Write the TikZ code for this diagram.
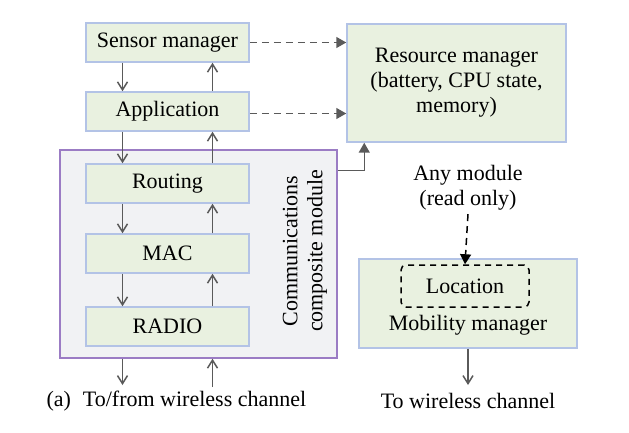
\documentclass[tikz,border=0pt]{standalone}
\usepackage{fontspec}
\setmainfont{Liberation Serif}
\usepackage{tikz}
\usepackage{xcolor}
\usetikzlibrary{arrows.meta}
\definecolor{boxfill}{HTML}{E9F1E0}
\definecolor{boxline}{HTML}{B3C3E6}
\definecolor{compfill}{HTML}{F1F2F4}
\definecolor{compline}{HTML}{9B7CC4}
\definecolor{arrowgray}{HTML}{5A5A5A}
\tikzset{
    layer-box/.style = {draw=boxline, fill=boxfill, line width=1.5pt, rectangle, minimum width=163pt, minimum height=39pt},
    comp-box/.style = {draw=compline, fill=compfill, line width=1.5pt, rectangle},
    flow/.style = {draw=arrowgray, line width=1.5pt, -{Straight Barb[length=8pt,width=10pt]}},
    tri/.style = {draw=arrowgray, line width=1.5pt, -{Triangle[length=10pt,width=11pt]}},
    info/.style = {tri, dashed, dash pattern=on 7pt off 5pt},
}

\begin{document}
\begin{tikzpicture}[x=1pt, y=-1pt, font=\fontsize{22}{25}\selectfont]
\useasboundingbox (0,0) rectangle (629,433);
% communications stack
\node[comp-box, minimum width=277pt, minimum height=208pt] (comp) at (198.5,254) {};
\node[layer-box] (sensor) at (167.5,42.5) {Sensor manager};
\node[layer-box] (app) at (167.5,111.5) {Application};
\node[layer-box] (routing) at (167.5,183.5) {Routing};
\node[layer-box] (mac) at (167.5,253.5) {MAC};
\node[layer-box] (radio) at (167.5,326.5) {RADIO};
\node[rotate=90, align=center] (commlabel) at (305,251) {Communications\\composite module};
% managers
\node[layer-box, minimum width=219pt, minimum height=118pt, align=center] (resource) at (456.5,83) {Resource manager\\(battery, CPU state,\\memory)};
\node[align=center] (anymod) at (468,188) {Any module\\(read only)};
\node[layer-box, minimum width=218pt, minimum height=89pt] (mobility) at (468,303.5) {};
\node[draw=black, line width=1.5pt, dashed, dash pattern=on 6pt off 5pt, rounded corners=5pt, minimum width=128pt, minimum height=42pt] (location) at (465,286) {Location};
\node (mobtext) at (468,325) {Mobility manager};
% channel labels
\node[anchor=west] (chanleft) at (43,401) {(a)\hspace{12pt}To/from wireless channel};
\node (chanright) at (468,401) {To wireless channel};
\coordinate (downend) at (122.5,385);
\coordinate (upstart) at (212.5,387);
\coordinate (mobend) at (468,385);

\foreach \a/\b in {sensor/app, app/routing, routing/mac, mac/radio}{
    \draw[flow] ([xshift=-45pt]\a.south) -- ([xshift=-45pt]\b.north);
    \draw[flow] ([xshift=45pt]\b.north) -- ([xshift=45pt]\a.south);
}
\draw[flow] (comp.south -| downend) -- (downend);
\draw[flow] (upstart) -- (comp.south -| upstart);
\draw[info] (sensor.east) -- (sensor.east -| resource.west);
\draw[info] ([yshift=-2pt]app.east) -- ([yshift=-2pt]app.east -| resource.west);
\draw[tri] ([yshift=-21pt]comp.north east) -| ([xshift=18pt]resource.south west);
\draw[info, draw=black] (anymod.south) -- (location.north);
\draw[flow] (mobility.south) -- (mobend);
\end{tikzpicture}
\end{document}
